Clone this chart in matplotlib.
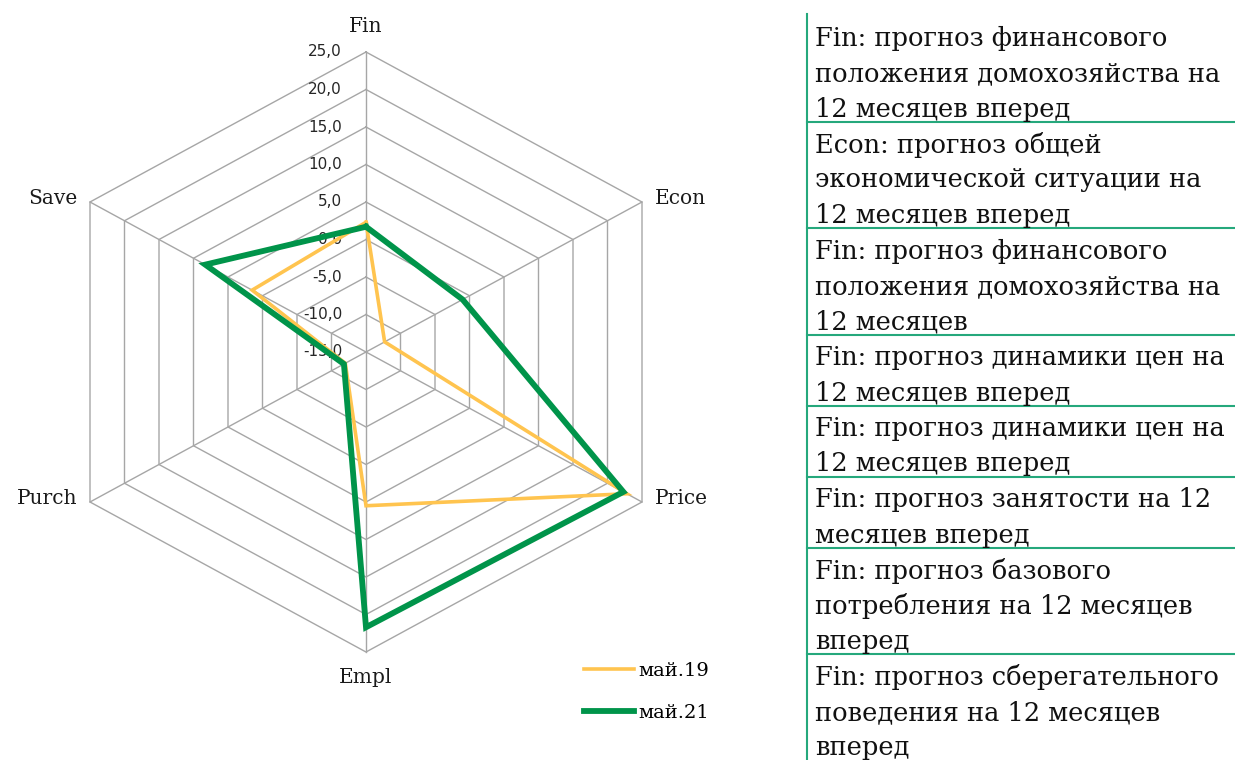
# -*- coding: utf-8 -*-
"""Radar chart: consumer sentiment components, May 2019 vs May 2021."""
import matplotlib
matplotlib.use("Agg")
import matplotlib.pyplot as plt
from matplotlib.lines import Line2D
import numpy as np

#---  data  ---
categories = ["Fin", "Econ", "Price", "Empl", "Purch", "Save"]
may19 = [2.3, -12.3, 22.8, 5.5, -12.0, 1.5]
may21 = [1.7, -1.0, 22.3, 21.7, -11.8, 8.3]
series_names = ["май.19", "май.21"]
ticks = [-15, -10, -5, 0, 5, 10, 15, 20, 25]
vmin, vmax = -15, 25

notes = [
    "Fin: прогноз финансового\nположения домохозяйства на\n12 месяцев вперед",
    "Econ: прогноз общей\nэкономической ситуации на\n12 месяцев вперед",
    "Fin: прогноз финансового\nположения домохозяйства на\n12 месяцев",
    "Fin: прогноз динамики цен на\n12 месяцев вперед",
    "Fin: прогноз динамики цен на\n12 месяцев вперед",
    "Fin: прогноз занятости на 12\nмесяцев вперед",
    "Fin: прогноз базового\nпотребления на 12 месяцев\nвперед",
    "Fin: прогноз сберегательного\nповедения на 12 месяцев\nвперед",
]

#---  styles  ---
W, H = 1235, 760
grid_col = "#A6A6A6"
c19 = "#FFC44F"
c21 = "#00944A"
rule_col = "#25A87C"

fig = plt.figure(figsize=(W / 100, H / 100), dpi=100)
# axes in "radius units": unit x = 318.7 px, unit y = 300 px, centre at (366, 352)
ux, uy, cx, cy, lim = 318.7, 300.0, 366.0, 352.0, 1.15
ax = fig.add_axes([(cx - lim * ux) / W, (H - cy - lim * uy) / H,
                   2 * lim * ux / W, 2 * lim * uy / H])
ax.set_xlim(-lim, lim)
ax.set_ylim(-lim, lim)
ax.axis("off")

n = len(categories)
ang = np.deg2rad(90 - 60 * np.arange(n))   # Fin on top, clockwise


def to_xy(vals):
    t = (np.asarray(vals, float) - vmin) / (vmax - vmin)
    x = t * np.cos(ang)
    y = t * np.sin(ang)
    return np.append(x, x[0]), np.append(y, y[0])


#---  grid rings and spokes  ---
for tv in ticks[1:]:
    gx, gy = to_xy([tv] * n)
    ax.plot(gx, gy, color=grid_col, lw=1.0, zorder=1)
ox, oy = to_xy([vmax] * n)
for i in range(n):
    ax.plot([0, ox[i]], [0, oy[i]], color=grid_col, lw=1.0, zorder=1)

#---  tick labels along Fin axis  ---
for tv in ticks:
    t = (tv - vmin) / (vmax - vmin)
    ax.text(-0.075, t, f"{tv:.1f}".replace(".", ","), ha="right", va="center",
            fontsize=11, color="#262626", family="DejaVu Sans", zorder=3)

#---  category labels  ---
for i, name in enumerate(categories):
    c, s = np.cos(ang[i]), np.sin(ang[i])
    if abs(c) < 0.1:
        ax.text(0, 1.085 * np.sign(s), name, ha="center", va="center",
                fontsize=14.5, family="DejaVu Serif", color="#1a1a1a")
    else:
        ax.text(ox[i] + 0.04 * np.sign(c), oy[i] + 0.01, name,
                ha="left" if c > 0 else "right", va="center",
                fontsize=14.5, family="DejaVu Serif", color="#1a1a1a")

#---  data series  ---
x19, y19 = to_xy(may19)
x21, y21 = to_xy(may21)
ax.plot(x19, y19, color=c19, lw=2.6, zorder=4, solid_joinstyle="miter")
ax.plot(x21, y21, color=c21, lw=4.2, zorder=5, solid_joinstyle="miter")

#---  legend  ---
handles = [Line2D([], [], color=c19, lw=2.6), Line2D([], [], color=c21, lw=4.2)]
fig.legend(handles, series_names, loc="upper left",
           bbox_to_anchor=(566 / W, 1 - 644 / H), frameon=False,
           handlelength=2.6, handletextpad=0.2, labelspacing=1.25,
           prop={"family": "DejaVu Serif", "size": 14})

#---  right-hand notes table  ---
x0, top, pitch = 807, 14, 35.5
fig.add_artist(Line2D([x0 / W, x0 / W], [1 - top / H, 0], color=rule_col, lw=1.5))
yline = 38.0
for k, note in enumerate(notes):
    for line in note.split("\n"):
        fig.text(815 / W, 1 - yline / H, line, ha="left", va="center",
                 fontsize=18.5, family="DejaVu Serif", color="#111111")
        yline += pitch
    yrule = yline - pitch + 12.5
    if k < len(notes) - 1:
        fig.add_artist(Line2D([x0 / W, 1], [1 - yrule / H] * 2, color=rule_col, lw=1.5))

fig.savefig("out.png", dpi=100)
